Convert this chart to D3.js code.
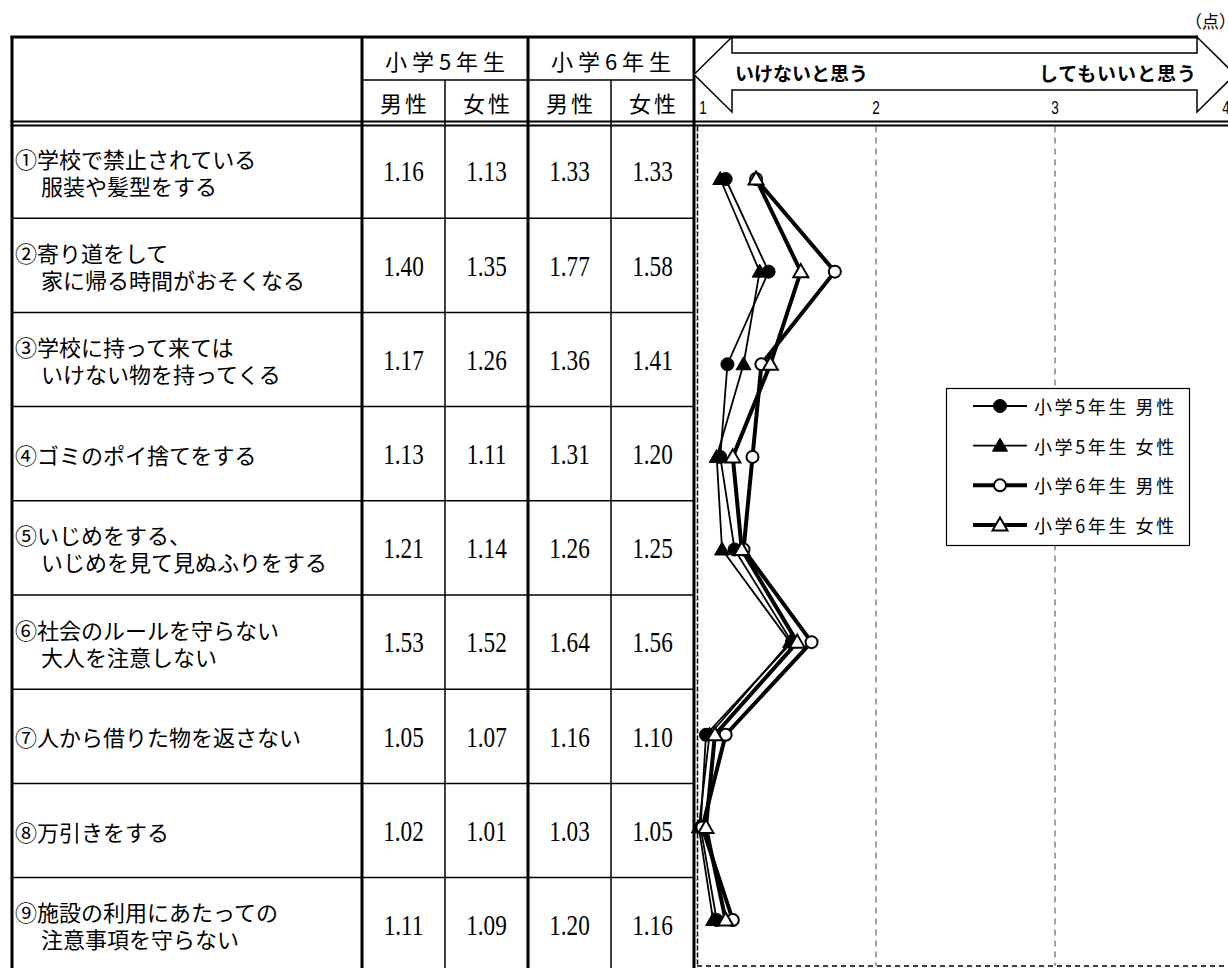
<!DOCTYPE html>
<html><head><meta charset="utf-8">
<script src="https://cdn.jsdelivr.net/npm/d3@7/dist/d3.min.js"></script>
<style>
html,body{margin:0;padding:0;background:#fff;}
svg{display:block;}
text{font-family:"Noto Sans CJK JP","Noto Sans",sans-serif;fill:#000;}
</style></head>
<body><svg id="c" width="1228" height="968"></svg>
<script>
// ---------- data ----------
const categories = [
  ["①学校で禁止されている", "服装や髪型をする"],
  ["②寄り道をして", "家に帰る時間がおそくなる"],
  ["③学校に持って来ては", "いけない物を持ってくる"],
  ["④ゴミのポイ捨てをする"],
  ["⑤いじめをする、", "いじめを見て見ぬふりをする"],
  ["⑥社会のルールを守らない", "大人を注意しない"],
  ["⑦人から借りた物を返さない"],
  ["⑧万引きをする"],
  ["⑨施設の利用にあたっての", "注意事項を守らない"]
];
const grades = ["小学5年生", "小学6年生"];
const genders = ["男性", "女性"];
const g5Male   = [1.16, 1.40, 1.17, 1.13, 1.21, 1.53, 1.05, 1.02, 1.11];
const g5Female = [1.13, 1.35, 1.26, 1.11, 1.14, 1.52, 1.07, 1.01, 1.09];
const g6Male   = [1.33, 1.77, 1.36, 1.31, 1.26, 1.64, 1.16, 1.03, 1.20];
const g6Female = [1.33, 1.58, 1.41, 1.20, 1.25, 1.56, 1.10, 1.05, 1.16];
const seriesNames = ["小学5年生 男性", "小学5年生 女性", "小学6年生 男性", "小学6年生 女性"];
const xTicks = [1, 2, 3, 4];
const scaleLeft = "いけないと思う";
const scaleRight = "してもいいと思う";
const unitLabel = "（点）";

// ---------- layout ----------
const svg = d3.select("#c");
const tableLeft = 12, labelRight = 362, valRight = 694;
const headTop = 37, headMid = 80, headBot1 = 121.5, headBot2 = 125.5;
const rowTop = 124, rowH = 94.2;
const n = categories.length;

const x = d3.scaleLinear().domain([1, 4]).range([697, 1234]);
const yPt = d3.scaleLinear().domain([0, n - 1]).range([179, 920]);
const rowBand = d3.scaleBand().domain(d3.range(n)).range([rowTop, rowTop + n * rowH]);
const colKeys = ["g5m", "g5f", "g6m", "g6f"];
const colBand = d3.scaleBand().domain(colKeys).range([labelRight, valRight]);
const gradeBand = d3.scaleBand().domain(grades).range([labelRight, valRight]);
const tableValues = [g5Male, g5Female, g6Male, g6Female];

// ---------- chart area grid ----------
const plotBottom = 966;
const grid = svg.append("g");
grid.selectAll("line.g").data(xTicks.filter(t => t > 1 && t < 4)).join("line")
  .attr("x1", d => x(d)).attr("x2", d => x(d))
  .attr("y1", headBot2 + 1).attr("y2", plotBottom)
  .attr("stroke", "#666").attr("stroke-width", 1.2).attr("stroke-dasharray", "6,5");
grid.append("line").attr("x1", x(1)).attr("x2", 1228).attr("y1", plotBottom).attr("y2", plotBottom)
  .attr("stroke", "#000").attr("stroke-width", 1.5).attr("stroke-dasharray", "5,4");
grid.append("line").attr("x1", x(1) + 0.5).attr("x2", x(1) + 0.5).attr("y1", headBot2 + 1).attr("y2", plotBottom)
  .attr("stroke", "#000").attr("stroke-width", 1.5).attr("stroke-dasharray", "5,2");

// ---------- table ----------
const tbl = svg.append("g").attr("stroke", "#000").attr("fill", "none");
tbl.selectAll("line.r").data(d3.range(1, n + 1)).join("line")
  .attr("x1", tableLeft).attr("x2", valRight)
  .attr("y1", d => rowTop + d * rowH).attr("y2", d => rowTop + d * rowH)
  .attr("stroke-width", 1.5);
tbl.append("line").attr("x1", labelRight).attr("x2", valRight).attr("y1", headMid).attr("y2", headMid).attr("stroke-width", 1.5);
tbl.selectAll("line.sc").data(["g5f", "g6f"]).join("line")
  .attr("x1", d => colBand(d)).attr("x2", d => colBand(d))
  .attr("y1", headMid).attr("y2", 968).attr("stroke-width", 1.5);
tbl.selectAll("line.tv").data([tableLeft, labelRight, gradeBand(grades[1]), valRight]).join("line")
  .attr("x1", d => d).attr("x2", d => d).attr("y1", headTop - 1).attr("y2", 968).attr("stroke-width", 3);
tbl.append("line").attr("x1", tableLeft - 1.5).attr("x2", 1198).attr("y1", headTop).attr("y2", headTop).attr("stroke-width", 3);
[headBot1, headBot2].forEach(yy => tbl.append("line").attr("x1", tableLeft - 1.5).attr("x2", 1228)
  .attr("y1", yy).attr("y2", yy).attr("stroke-width", 2));

// header texts
svg.selectAll("text.grade").data(grades).join("text")
  .attr("x", d => gradeBand(d) + gradeBand.bandwidth() / 2 + 2.5).attr("y", (headTop + headMid) / 2 + 1)
  .attr("text-anchor", "middle").attr("dominant-baseline", "central")
  .style("font-size", "22px").style("letter-spacing", "5px").text(d => d);
svg.selectAll("text.gender").data(colKeys).join("text")
  .attr("x", d => colBand(d) + colBand.bandwidth() / 2 + 1.5).attr("y", (headMid + headBot1) / 2 + 1)
  .attr("text-anchor", "middle").attr("dominant-baseline", "central")
  .style("font-size", "22px").style("letter-spacing", "3px").text((d, i) => genders[i % 2]);

// category labels
const lab = svg.selectAll("g.lab").data(categories).join("g")
  .attr("transform", (d, i) => `translate(${tableLeft + 3},${rowBand(i) + rowH / 2})`);
lab.each(function(lines) {
  const g = d3.select(this);
  lines.forEach((t, j) => {
    const dy = lines.length === 1 ? 0 : (j === 0 ? -13.5 : 13.5);
    g.append("text").attr("x", j === 0 ? 0 : 26).attr("y", dy)
      .attr("dominant-baseline", "central").style("font-size", "22px").text(t);
  });
});

// value cells
colKeys.forEach((k, ci) => {
  svg.selectAll(`text.v${k}`).data(tableValues[ci]).join("text")
    .attr("transform", (d, i) => `translate(${colBand(k) + colBand.bandwidth() / 2},${rowBand(i) + rowH / 2 + 1}) scale(0.8,1)`)
    .attr("text-anchor", "middle").attr("dominant-baseline", "central")
    .style("font-family", "'Liberation Serif','DejaVu Serif',serif").style("font-size", "29px")
    .text(d => d.toFixed(2));
});

// ---------- scale arrow header ----------
const tipL = x(1) - 3, baseL = tipL + 38, baseR = 1197, tipR = baseR + 38;
const aTop = 37, aBot = 112, sTop = 53, sBot = 90, aMid = (aTop + aBot) / 2;
const arrowPts = [[tipL, aMid], [baseL, aTop], [baseL, sTop], [baseR, sTop], [baseR, aTop], [tipR, aMid],
  [baseR, aBot], [baseR, sBot], [baseL, sBot], [baseL, aBot]];
svg.append("path").attr("d", d3.line()(arrowPts) + "Z")
  .attr("fill", "#fff").attr("stroke", "#000").attr("stroke-width", 1.5);
svg.append("text").attr("x", baseL + 3).attr("y", (sTop + sBot) / 2 + 1).attr("dominant-baseline", "central")
  .style("font-size", "19px").style("font-weight", "bold").text(scaleLeft);
svg.append("text").attr("x", baseR).attr("y", (sTop + sBot) / 2 + 1).attr("dominant-baseline", "central")
  .attr("text-anchor", "end").style("font-size", "19px").style("font-weight", "bold").style("letter-spacing", "1px").text(scaleRight);
svg.append("text").attr("x", 1185).attr("y", 20).attr("dominant-baseline", "central")
  .style("font-size", "17px").text(unitLabel);

// tick labels
svg.selectAll("text.tick").data(xTicks).join("text")
  .attr("transform", d => {
    const off = d === 1 ? 6 : (d === 4 ? -8 : 0);
    return `translate(${x(d) + off},${108}) scale(0.72,1)`;
  })
  .attr("text-anchor", "middle").attr("dominant-baseline", "central")
  .style("font-family", "'Liberation Sans',Arial,sans-serif").style("font-size", "19px")
  .text(d => d);

// ---------- series ----------
const series = [
  {values: g5Male, thick: false, shape: "circle", open: false},
  {values: g5Female, thick: false, shape: "tri", open: false},
  {values: g6Male, thick: true, shape: "circle", open: true},
  {values: g6Female, thick: true, shape: "tri", open: true}
];
const line = d3.line().x(d => x(d)).y((d, i) => yPt(i));
const triPath = "M0,-7.5L7.5,5.5L-7.5,5.5Z";
function drawMarker(g, shape, open, cx, cy) {
  const m = shape === "circle"
    ? g.append("circle").attr("cx", cx).attr("cy", cy).attr("r", open ? 6 : 6.5)
    : g.append("path").attr("d", triPath).attr("transform", `translate(${cx},${cy})`);
  m.attr("fill", open ? "#fff" : "#000").attr("stroke", "#000").attr("stroke-width", open ? 2 : 1);
}
series.forEach(s => {
  const g = svg.append("g");
  g.append("path").attr("d", line(s.values)).attr("fill", "none").attr("stroke", "#000")
    .attr("stroke-width", s.thick ? 4 : 1.8).attr("stroke-linejoin", "round");
  s.values.forEach((v, i) => drawMarker(g, s.shape, s.open, x(v), yPt(i)));
});

// ---------- legend ----------
const lg = svg.append("g");
lg.append("rect").attr("x", 946.5).attr("y", 388.5).attr("width", 243).attr("height", 157)
  .attr("fill", "#fff").attr("stroke", "#000").attr("stroke-width", 1.2);
const legY = d3.scaleLinear().domain([0, 3]).range([406, 525]);
series.forEach((s, i) => {
  const yy = legY(i);
  lg.append("line").attr("x1", 973).attr("x2", 1027).attr("y1", yy).attr("y2", yy)
    .attr("stroke", "#000").attr("stroke-width", s.thick ? 4 : 1.8);
  drawMarker(lg, s.shape, s.open, 1000, yy);
  lg.append("text").attr("x", 1034).attr("y", yy).attr("dominant-baseline", "central")
    .style("font-size", "18px").style("letter-spacing", "2.6px").text(seriesNames[i]);
});
</script></body></html>
